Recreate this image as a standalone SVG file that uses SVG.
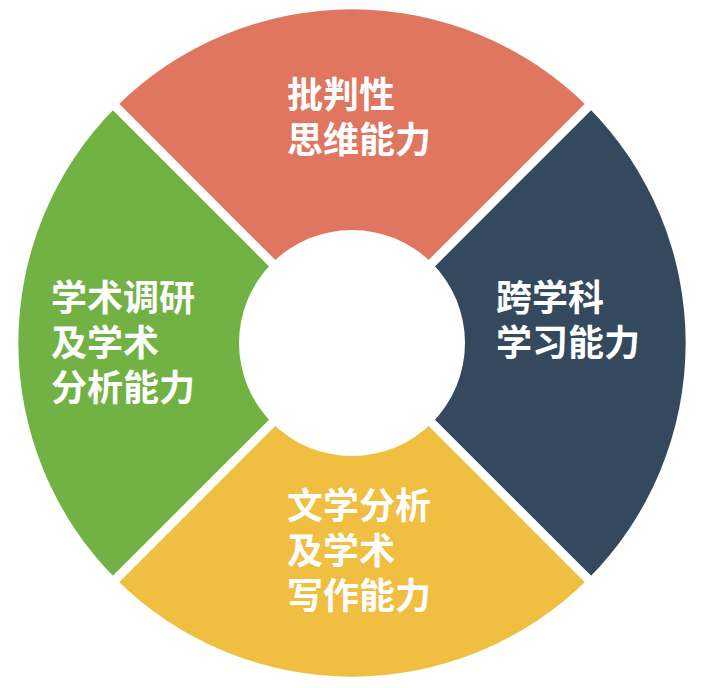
<svg xmlns="http://www.w3.org/2000/svg" width="702" height="688" viewBox="0 0 702 688">
<style>
.t{font-family:"Noto Sans CJK SC","Noto Sans",sans-serif;font-weight:bold;font-size:36px;fill:#fff}
.gap{stroke:#fff;stroke-width:9}
</style>
<rect width="702" height="688" fill="#fff"/>
<g id="top"><path d="M352,343 L116,107 A334,334 0 0 1 588,107 Z" fill="#E07560"/>
<text class="t" x="287" y="108">批判性</text><text class="t" x="287" y="153">思维能力</text></g>
<g id="right"><path d="M352,343 L588,107 A334,334 0 0 1 588,579 Z" fill="#35495E"/>
<text class="t" x="496" y="311">跨学科</text><text class="t" x="496" y="356">学习能力</text></g>
<g id="bottom"><path d="M352,343 L588,579 A334,334 0 0 1 116,579 Z" fill="#F0BE41"/>
<text class="t" x="287" y="519">文学分析</text><text class="t" x="287" y="564">及学术</text><text class="t" x="287" y="609">写作能力</text></g>
<g id="left"><path d="M352,343 L116,579 A334,334 0 0 1 116,107 Z" fill="#72B244"/>
<text class="t" x="51" y="311">学术调研</text><text class="t" x="51" y="356">及学术</text><text class="t" x="51" y="401">分析能力</text></g>
<g id="connectors">
<line class="gap" x1="90" y1="81" x2="614" y2="605"/>
<line class="gap" x1="614" y1="81" x2="90" y2="605"/>
<circle cx="352" cy="343" r="113" fill="#fff"/>
</g>
</svg>
